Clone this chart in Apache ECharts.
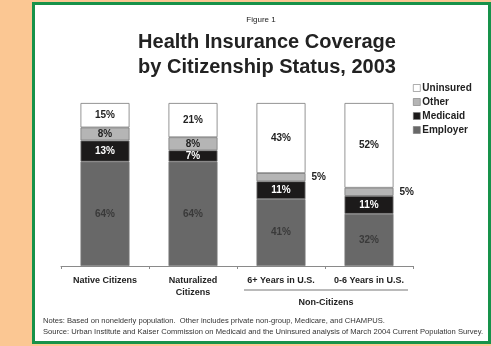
<!DOCTYPE html>
<html>
<head>
    <meta charset="UTF-8">
    <title>Health Insurance Coverage by Citizenship Status, 2003</title>
    <script src="https://cdn.jsdelivr.net/npm/echarts@6/dist/echarts.min.js"></script>
    <style>
        html, body { margin: 0; padding: 0; background: #fbc793; }
        #main { width: 491px; height: 346px; }
    </style>
</head>
<body>
<div id="main"></div>
<script type="text/javascript">
    // data (percent of nonelderly population)
    var categories = ['Native Citizens', 'Naturalized\nCitizens', '6+ Years in U.S.', '0-6 Years in U.S.'];
    var employer = [64, 64, 41, 32];
    var medicaid = [13, 7, 11, 11];
    var other = [8, 8, 5, 5];
    var uninsured = [15, 21, 43, 52];
    // where the "Other" label goes (the thin slices get it beside the bar)
    var otherLabelPos = ['inside', 'inside', 'right', 'right'];
    var legendNames = ['Uninsured', 'Other', 'Medicaid', 'Employer'];

    var font = 'Liberation Sans, Arial, sans-serif';

    function seg(name, values, color, labelColor, positions) {
        return {
            name: name,
            type: 'bar',
            stack: 'total',
            barWidth: 49,
            itemStyle: { color: color, borderColor: '#7a7a7a', borderWidth: 0.8 },
            label: {
                show: true,
                position: 'inside',
                formatter: '{c}%',
                color: labelColor,
                fontFamily: font,
                fontWeight: 'bold',
                fontSize: 10
            },
            data: values.map(function (v, i) {
                if (positions && positions[i] !== 'inside') {
                    return { value: v, label: { position: positions[i], distance: 6, color: '#222' } };
                }
                return v;
            })
        };
    }

    var myChart = echarts.init(document.getElementById('main'));

    var option = {
        animation: false,
        backgroundColor: '#fbc793',
        textStyle: { fontFamily: font },
        graphic: [
            // green frame + white panel
            { type: 'rect', z: -10, shape: { x: 33.5, y: 3.5, width: 456, height: 339 },
              style: { fill: '#ffffff', stroke: '#17924a', lineWidth: 3 } },
            { type: 'text', x: 261, y: 16,
              style: { text: 'Figure 1', fill: '#222', font: '8px ' + font, align: 'center' } },
            { type: 'text', x: 267, y: 30,
              style: { text: 'Health Insurance Coverage\nby Citizenship Status, 2003', fill: '#222',
                  font: 'bold 20px ' + font, align: 'center', lineHeight: 25 } },
            { type: 'line', shape: { x1: 244, y1: 290, x2: 408, y2: 290 },
              style: { stroke: '#777', lineWidth: 1 } },
            { type: 'text', x: 326, y: 298,
              style: { text: 'Non-Citizens', fill: '#222', font: 'bold 9px ' + font, align: 'center' } },
            { type: 'text', x: 43, y: 316,
              style: { text: 'Notes: Based on nonelderly population.  Other includes private non-group, Medicare, and CHAMPUS.\nSource: Urban Institute and Kaiser Commission on Medicaid and the Uninsured analysis of March 2004 Current Population Survey.',
                  fill: '#333', font: '7.6px ' + font, lineHeight: 10.5 } }
        ],
        legend: {
            orient: 'vertical',
            left: 408,
            top: 77,
            icon: 'rect',
            itemWidth: 7,
            itemHeight: 7,
            itemGap: 2,
            data: legendNames,
            itemStyle: { borderWidth: 0.6, borderColor: '#777' },
            textStyle: { fontFamily: font, fontWeight: 'bold', fontSize: 10, color: '#222', lineHeight: 12, padding: [0, 0, 0, -3] }
        },
        grid: { left: 61, top: 103, width: 352, height: 163 },
        xAxis: {
            type: 'category',
            data: categories,
            axisLine: { lineStyle: { color: '#8a8a8a' } },
            axisTick: { show: true, interval: 0, length: 3, lineStyle: { color: '#8a8a8a' } },
            axisLabel: { interval: 0, margin: 9, color: '#222', fontFamily: font, fontWeight: 'bold', fontSize: 9, lineHeight: 12 }
        },
        yAxis: { type: 'value', min: 0, max: 100, show: false },
        series: [
            seg('Employer', employer, '#686868', '#3a3a3a'),
            seg('Medicaid', medicaid, '#1c1a1a', '#fff'),
            seg('Other', other, '#b5b5b5', '#222', otherLabelPos),
            seg('Uninsured', uninsured, '#ffffff', '#222')
        ]
    };

    myChart.setOption(option);
</script>
</body>
</html>
